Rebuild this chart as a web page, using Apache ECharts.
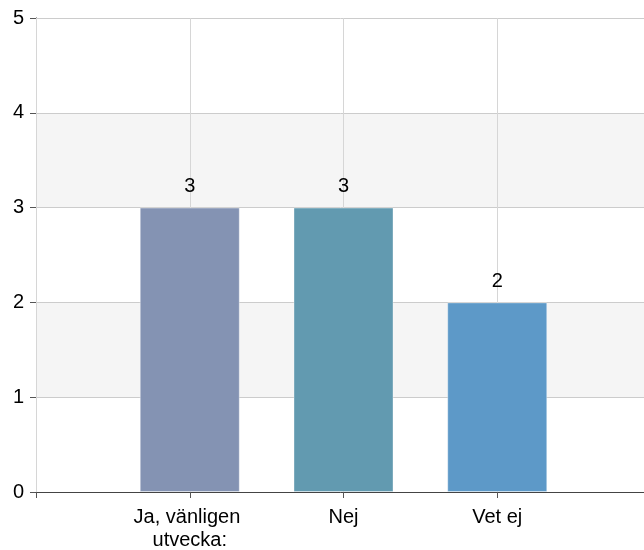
<!DOCTYPE html>
<html>
<head>
<meta charset="utf-8">
<script src="https://cdn.jsdelivr.net/npm/echarts@6/dist/echarts.min.js"></script>
<style>html,body{margin:0;padding:0;background:#fff}#c{width:644px;height:550px}</style>
</head>
<body>
<div id="c"></div>
<script>
var categories = ['Ja, vänligen utvecka:', 'Nej', 'Vet ej'];
var values = [3, 3, 2];
var barColors = ['#8493B3', '#629AB0', '#5D99C8'];
var yTicks = [0, 1, 2, 3, 4, 5];

var font = '"Liberation Sans", Arial, sans-serif';
var xData = [''].concat(categories).concat(['']);
var sData = ['-'].concat(values.map(function (v, i) {
  return { value: v, itemStyle: { color: barColors[i] } };
})).concat(['-']);

var chart = echarts.init(document.getElementById('c'), null, { renderer: 'canvas' });
chart.setOption({
  animation: false,
  backgroundColor: '#fff',
  grid: { left: 36, top: 18, width: 615, height: 474, containLabel: false, outerBoundsMode: 'none' },
  xAxis: {
    type: 'category',
    data: xData,
    boundaryGap: false,
    axisLine: { show: true, lineStyle: { color: '#444', width: 1 } },
    axisTick: { show: true, length: 6, lineStyle: { color: '#555' } },
    axisLabel: {
      interval: 0, margin: 14, color: '#000', fontSize: 20, fontFamily: font,
      lineHeight: 23, width: 140, overflow: 'break'
    },
    splitLine: { show: true, lineStyle: { color: '#d6d6d6', width: 1 } },
    z: 3
  },
  yAxis: {
    type: 'value',
    min: yTicks[0], max: yTicks[yTicks.length - 1], interval: 1,
    axisLine: { show: true, lineStyle: { color: '#222', width: 1 } },
    axisTick: { show: true, length: 6, lineStyle: { color: '#555' } },
    axisLabel: { margin: 12, color: '#000', fontSize: 20, fontFamily: font },
    splitLine: { show: true, lineStyle: { color: '#cccccc', width: 1 } },
    splitArea: { show: true, areaStyle: { color: ['#ffffff', '#f5f5f5'] } }
  },
  series: [{
    type: 'bar',
    data: sData,
    barWidth: 100,
    itemStyle: { borderColor: 'rgba(255,255,255,0.35)', borderWidth: 1 },
    label: {
      show: true, position: 'top', distance: 11,
      color: '#000', fontSize: 20, fontFamily: font
    },
    z: 4
  }]
});
</script>
</body>
</html>
